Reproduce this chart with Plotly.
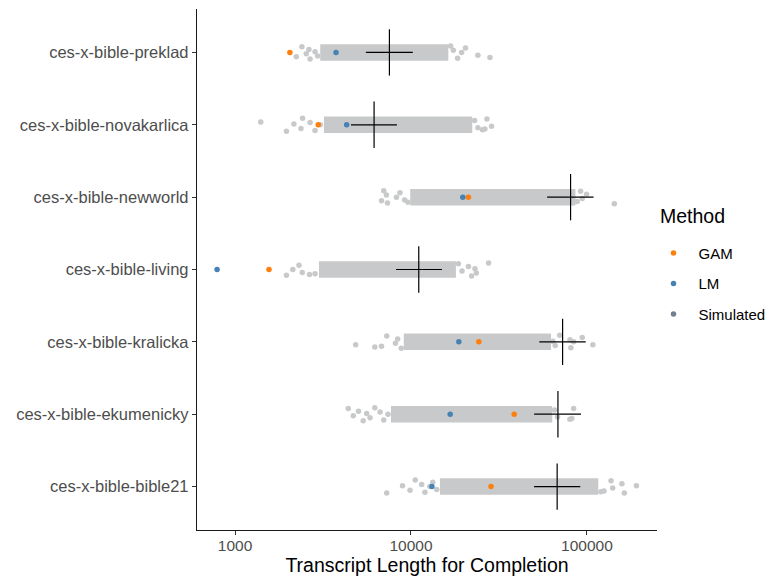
import plotly.graph_objects as go

categories = [
    "ces-x-bible-preklad",
    "ces-x-bible-novakarlica",
    "ces-x-bible-newworld",
    "ces-x-bible-living",
    "ces-x-bible-kralicka",
    "ces-x-bible-ekumenicky",
    "ces-x-bible-bible21",
]

gam_values = [2050, 2970, 21200, 1560, 24300, 38600, 28500]
lm_values = [3750, 4310, 19700, 791, 18700, 16700, 13150]

sim_median = [7540, 6170, 80700, 11070, 72700, 68400, 67700]
sim_low = [5540, 4560, 59400, 8220, 53600, 50100, 50000]
sim_high = [10240, 8320, 109000, 15000, 98400, 92500, 91600]

# dense core of the simulated cloud (where points overlap completely)
sim_core_low = [3050, 3200, 9900, 3000, 9100, 7700, 14600]
sim_core_high = [16300, 22300, 86000, 18000, 62500, 63500, 116000]

# scattered simulated points outside the dense core
sim_tails = [
    [2230, 2400, 2540, 2630, 2670, 2850, 2950, 16800, 17400, 18400, 19400, 20400, 24000, 28100],
    [1400, 1960, 2160, 2370, 2420, 2670, 2850, 3050, 23000, 24000, 25500, 26300, 27000, 28700],
    [6800, 7000, 7250, 7350, 8270, 8660, 9200, 9600, 88000, 92000, 94000, 99500, 143000],
    [1960, 2130, 2310, 2410, 2650, 2850, 18600, 19500, 21200, 22100, 23100, 23500, 27600],
    [4850, 6230, 6800, 7280, 8160, 8400, 8800, 64000, 66000, 70000, 80000, 81000, 84000, 94000, 108000],
    [4400, 4700, 5030, 5350, 5600, 5850, 6230, 6670, 7000, 7400, 65500, 68000, 80000, 82000, 84000],
    [7280, 8950, 9870, 10570, 11500, 12000, 12800, 13300, 14000, 120000, 125000, 137000, 140000, 158000, 163000, 191000],
]

JITTER = [0.06, -0.08, 0.02, -0.04, 0.09, -0.01, 0.05, -0.09, -0.03, 0.08, 0.0, -0.06, 0.04, 0.07]

GRAY = "#c8c9ca"
GAM_COLOR = "#ff7f0e"
LM_COLOR = "#4682b4"
SIM_COLOR = "#708090"

fig = go.Figure()

# dense cores
for i in range(len(categories)):
    fig.add_trace(go.Scatter(
        x=[sim_core_low[i], sim_core_high[i]], y=[i, i], mode="lines",
        line=dict(color=GRAY, width=16.5), showlegend=False, hoverinfo="skip"))

# tail points
for i in range(len(categories)):
    xs = sim_tails[i]
    ys = [i + JITTER[(k + 3 * i) % len(JITTER)] for k in range(len(xs))]
    fig.add_trace(go.Scatter(
        x=xs, y=ys, mode="markers",
        marker=dict(color=GRAY, size=5.5), showlegend=False, hoverinfo="skip"))

# crosshairs
cx, cy = [], []
for i in range(len(categories)):
    cx += [sim_median[i], sim_median[i], None, sim_low[i], sim_high[i], None]
    cy += [i - 0.32, i + 0.32, None, i, i, None]
fig.add_trace(go.Scatter(x=cx, y=cy, mode="lines",
                         line=dict(color="black", width=1.2),
                         showlegend=False, hoverinfo="skip"))

ys = list(range(len(categories)))
fig.add_trace(go.Scatter(x=gam_values, y=ys, mode="markers", name="GAM",
                         marker=dict(color=GAM_COLOR, size=5.5), legendgroup="a"))
fig.add_trace(go.Scatter(x=lm_values, y=ys, mode="markers", name="LM",
                         marker=dict(color=LM_COLOR, size=5.5), legendgroup="b"))
fig.add_trace(go.Scatter(x=[None], y=[None], mode="markers", name="Simulated",
                         marker=dict(color=SIM_COLOR, size=5.5), legendgroup="c"))

fig.update_layout(
    width=768, height=572,
    margin=dict(l=189, r=119, t=1, b=50, autoexpand=False),
    plot_bgcolor="white", paper_bgcolor="white",
    font=dict(family="Liberation Sans, Arial, sans-serif", size=15.5, color="#4d4d4d"),
    legend=dict(
        font=dict(size=15, color="black"),
        xref="container", yref="container",
        x=0.834, xanchor="left", y=0.518, yanchor="middle",
        traceorder="grouped", tracegroupgap=8,
        itemsizing="trace", itemwidth=40,
    ),
    annotations=[dict(text="Method", xref="paper", yref="paper", x=1.0022, y=0.602,
                      xanchor="left", yanchor="middle", showarrow=False,
                      font=dict(size=19.5, color="black"))],
    xaxis=dict(
        type="log", range=[2.784, 5.398],
        tickvals=[1000, 10000, 100000], ticktext=["1000", "10000", "100000"],
        showgrid=False, zeroline=False,
        showline=True, linecolor="#1a1a1a", linewidth=1.3,
        ticks="outside", ticklen=4, tickcolor="#333333", tickwidth=1.1,
        tickfont=dict(size=15.5, color="#4d4d4d"), ticklabelstandoff=-3,
        title=dict(text="Transcript Length for Completion",
                   font=dict(size=19.5, color="black"), standoff=2),
    ),
    yaxis=dict(
        range=[6.6, -0.6],
        tickvals=ys, ticktext=categories,
        showgrid=False, zeroline=False,
        showline=True, linecolor="#1a1a1a", linewidth=1.3,
        ticks="outside", ticklen=4, tickcolor="#333333", tickwidth=1.1,
        tickfont=dict(size=16.5, color="#4d4d4d"),
    ),
)

fig.write_html("out.html")
